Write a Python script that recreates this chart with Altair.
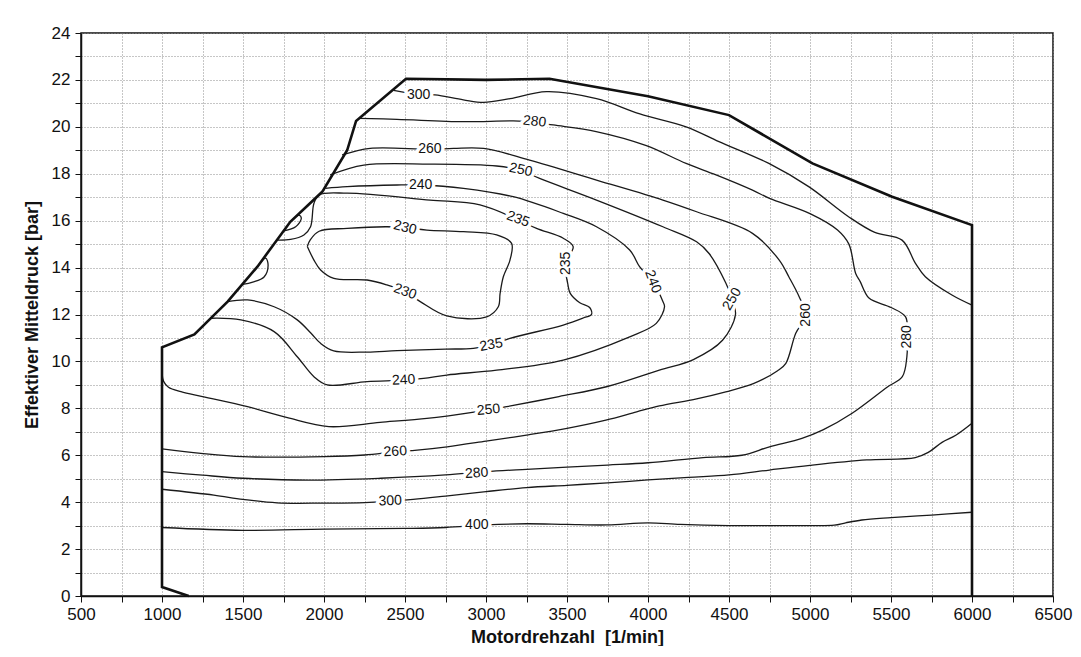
import altair as alt
import pandas as pd

FONT = "Liberation Sans"

# ---------------- data ----------------
# full-load boundary of the map
boundary_rpm = [1165, 1000, 1000, 1200, 1405, 1589, 1792, 1989, 2143, 2198, 2506, 3000, 3392, 4000, 4500, 5015, 5507, 6000, 6000]
boundary_bar = [0.0, 0.38, 10.6, 11.15, 12.55, 14.04, 15.95, 17.23, 19.0, 20.25, 22.05, 22.0, 22.05, 21.3, 20.5, 18.44, 17.02, 15.81, 0.0]

c400_rpm = [1000, 1500, 2000, 2500, 2750, 3000, 3250, 3500, 3750, 4000, 4200, 4500, 4750, 5000, 5150, 5220, 5320, 5500, 5750, 6000]
c400_bar = [2.92, 2.8, 2.85, 2.88, 2.92, 3.03, 3.08, 3.05, 3.03, 3.12, 3.05, 3.0, 3.0, 3.0, 3.02, 3.12, 3.24, 3.34, 3.45, 3.57]

c300a_rpm = [1000, 1320, 1500, 1710, 2000, 2250, 2550, 2750, 3000, 3250, 3500, 3750, 4000, 4250, 4500, 4750, 5000, 5350, 5650, 5730, 5815, 5900, 6000]
c300a_bar = [4.55, 4.3, 4.12, 3.97, 3.96, 3.98, 4.12, 4.26, 4.45, 4.62, 4.72, 4.82, 4.95, 5.06, 5.16, 5.37, 5.57, 5.8, 5.9, 6.12, 6.55, 6.85, 7.36]

c300b_rpm = [2430, 2584, 2685, 2860, 2985, 3148, 3374, 3682, 3950, 4235, 4438, 4746, 4992, 5238, 5400, 5568, 5651, 5712, 5876, 6000]
c300b_bar = [21.55, 21.38, 21.36, 21.15, 21.04, 21.2, 21.5, 21.2, 20.55, 20.0, 19.37, 18.44, 17.45, 16.17, 15.5, 15.17, 14.18, 13.61, 12.83, 12.4]

c280_rpm = [1000, 1250, 1500, 1900, 2350, 2750, 3000, 3250, 3750, 4000, 4340, 4580, 4750, 4950, 5080, 5260, 5480, 5570, 5598, 5600, 5590, 5500, 5364, 5310, 5282, 5240, 5170, 5000, 4750, 4645, 4420, 4235, 3990, 3680, 3415, 3300, 3168, 2860, 2450, 2215]
c280_bar = [5.3, 5.15, 5.02, 4.94, 5.02, 5.16, 5.3, 5.4, 5.58, 5.68, 5.9, 6.0, 6.36, 6.72, 7.08, 7.79, 8.92, 9.35, 10.2, 11.05, 11.9, 12.3, 12.7, 13.4, 13.75, 15.0, 15.6, 16.3, 16.95, 17.3, 17.95, 18.44, 19.2, 19.8, 20.08, 20.2, 20.25, 20.22, 20.32, 20.36]

c260_rpm = [1000, 1240, 1500, 2000, 2250, 2440, 2575, 2760, 3000, 3250, 3500, 3740, 3930, 4070, 4300, 4480, 4650, 4800, 4851, 4912, 4974, 4933, 4870, 4810, 4645, 4300, 4092, 3682, 3269, 2985, 2800, 2654, 2285, 2112]
c260_bar = [6.27, 6.08, 5.94, 5.94, 6.01, 6.15, 6.22, 6.36, 6.6, 6.86, 7.15, 7.5, 7.85, 8.1, 8.4, 8.7, 9.05, 9.6, 9.92, 11.2, 11.98, 12.76, 13.6, 14.32, 15.46, 16.38, 16.88, 17.73, 18.58, 19.08, 19.08, 19.04, 19.08, 18.8]

c250_rpm = [1000, 1010, 1040, 1117, 1250, 1528, 1774, 2030, 2346, 2635, 2758, 3015, 3128, 3450, 3743, 4070, 4280, 4460, 4540, 4520, 4481, 4377, 4300, 4092, 3682, 3331, 3208, 3066, 2654, 2246, 2038]
c250_bar = [9.5, 9.15, 8.9, 8.71, 8.5, 8.07, 7.6, 7.22, 7.4, 7.57, 7.67, 7.93, 8.07, 8.5, 8.92, 9.63, 10.08, 10.9, 12.0, 12.65, 13.33, 14.6, 15.1, 15.74, 16.88, 17.8, 18.16, 18.33, 18.41, 18.37, 17.95]

c240_rpm = [1302, 1487, 1692, 1835, 1938, 2020, 2266, 2492, 2615, 2758, 3066, 3477, 3887, 4051, 4102, 4092, 4030, 3948, 3887, 3682, 3477, 3168, 2861, 2594, 2451, 2143, 2009]
c240_bar = [11.84, 11.77, 11.27, 10.2, 9.35, 9.0, 9.14, 9.2, 9.28, 9.42, 9.63, 10.06, 11.05, 11.62, 12.33, 12.55, 13.4, 14.04, 14.75, 15.74, 16.31, 17.02, 17.38, 17.52, 17.52, 17.45, 17.38]

c235_rpm = [1405, 1528, 1692, 1835, 1920, 1979, 2060, 2266, 2451, 2750, 2922, 3035, 3148, 3477, 3600, 3651, 3640, 3579, 3520, 3505, 3490, 3538, 3477, 3312, 3200, 2963, 2654, 2143, 1970, 1938, 1917, 1876, 1794, 1712]
c235_bar = [12.55, 12.62, 12.33, 11.77, 11.2, 10.77, 10.45, 10.4, 10.46, 10.52, 10.56, 10.7, 10.98, 11.55, 11.85, 12.0, 12.3, 12.5, 12.9, 13.3, 14.18, 14.89, 15.25, 15.67, 16.03, 16.67, 16.88, 17.17, 17.1, 16.74, 15.74, 15.39, 15.2, 15.17]

c230_rpm = [1897, 1917, 1970, 2143, 2389, 2500, 2635, 2861, 3066, 3158, 3148, 3107, 3087, 3076, 3004, 2758, 2594, 2500, 2389, 2266, 2061, 1979, 1938, 1897]
c230_bar = [14.9, 15.2, 15.55, 15.67, 15.74, 15.7, 15.6, 15.53, 15.39, 15.03, 14.32, 13.61, 12.9, 12.33, 11.9, 11.94, 12.55, 12.98, 13.26, 13.47, 13.54, 13.9, 14.32, 14.9]

islandA_rpm = [1589, 1640, 1655, 1630, 1560, 1497]
islandA_bar = [14.04, 14.4, 14.1, 13.6, 13.38, 13.28]

islandB_rpm = [1794, 1845, 1860, 1825, 1753]
islandB_bar = [15.96, 16.24, 16.1, 15.74, 15.57]

# contour labels: text, rpm, bar, rotation (deg, clockwise)
label_text = ["300", "280", "260", "250", "240", "235", "230", "235", "240", "250", "260", "280",
              "230", "235", "240", "250", "260", "280", "300", "400"]
label_rpm = [2584, 3300, 2654, 3215, 2597, 3198, 2500, 3492, 4030, 4520, 4974, 5600,
             2500, 3032, 2492, 3015, 2440, 2943, 2409, 2943]
label_bar = [21.36, 20.22, 19.05, 18.16, 17.52, 16.06, 15.7, 14.18, 13.4, 12.65, 11.98, 11.05,
             12.97, 10.7, 9.2, 7.93, 6.15, 5.23, 4.05, 3.03]
label_angle = [0, 6, 0, 12, 0, 20, 14, 270, 70, 300, 270, 270,
               20, 350, 357, 355, 357, 357, 358, 0]

# x / y tick values
x_ticks = list(range(500, 6501, 250))
y_ticks = list(range(0, 25, 1))

# ---------------- build tables ----------------
contours = [
    ("c400", c400_rpm, c400_bar), ("c300a", c300a_rpm, c300a_bar), ("c300b", c300b_rpm, c300b_bar),
    ("c280", c280_rpm, c280_bar), ("c260", c260_rpm, c260_bar), ("c250", c250_rpm, c250_bar),
    ("c240", c240_rpm, c240_bar), ("c235", c235_rpm, c235_bar), ("c230", c230_rpm, c230_bar),
    ("islA", islandA_rpm, islandA_bar), ("islB", islandB_rpm, islandB_bar),
]
rows = []
for name, xs, ys in contours:
    for i, (xv, yv) in enumerate(zip(xs, ys)):
        rows.append({"id": name, "i": i, "rpm": xv, "bar": yv})
cdf = pd.DataFrame(rows)
bdf = pd.DataFrame({"id": "full", "i": range(len(boundary_rpm)), "rpm": boundary_rpm, "bar": boundary_bar})
ldf = pd.DataFrame({"t": label_text, "rpm": label_rpm, "bar": label_bar, "a": label_angle})

axis_common = dict(
    grid=True, gridDash=[1, 2], gridColor="#8c8c8c", gridWidth=1, gridOpacity=1,
    domain=True, domainColor="#111", domainWidth=1.5,
    ticks=True, tickColor="#111", tickSize=6, tickWidth=1,
    labelFont=FONT, labelFontSize=17, labelColor="#111",
    titleFont=FONT, titleFontSize=18, titleFontWeight="bold", titleColor="#111",
)

x_enc = alt.X("rpm:Q", scale=alt.Scale(domain=[500, 6500], nice=False, zero=False),
              axis=alt.Axis(values=x_ticks, title="Motordrehzahl \u00a0[1/min]",
                            labelExpr="datum.value % 500 == 0 ? '' + datum.value : ''",
                            labelPadding=4, titlePadding=6, labelFlush=False, **axis_common))
y_enc = alt.Y("bar:Q", scale=alt.Scale(domain=[0, 24], nice=False, zero=False),
              axis=alt.Axis(values=y_ticks, title="Effektiver Mitteldruck [bar]",
                            labelExpr="datum.value % 2 == 0 ? '' + datum.value : ''",
                            labelPadding=5, titlePadding=10, labelFlush=False, **axis_common))

lines = alt.Chart(cdf).mark_line(color="#1a1a1a", strokeWidth=1.3, interpolate="catmull-rom").encode(
    x=x_enc, y=y_enc, detail="id:N", order="i:Q")

border = alt.Chart(bdf).mark_line(color="#111", strokeWidth=2.6, strokeJoin="miter").encode(
    x=x_enc, y=y_enc, order="i:Q")

halo = alt.Chart(ldf).mark_text(font=FONT, fontSize=14, fill="white", stroke="white", strokeWidth=7,
                                strokeJoin="round", align="center", baseline="middle").encode(
    x=x_enc, y=y_enc, text="t:N", angle=alt.Angle("a:Q", scale=None))
text = alt.Chart(ldf).mark_text(font=FONT, fontSize=14, color="#111", align="center", baseline="middle").encode(
    x=x_enc, y=y_enc, text="t:N", angle=alt.Angle("a:Q", scale=None))

chart = alt.layer(lines, border, halo, text).properties(
    width=972, height=563,
    padding={"left": 73, "top": 25, "right": 20, "bottom": 50},
    autosize=alt.AutoSizeParams(type="none"),
    background="white",
).configure_view(stroke="#111", strokeWidth=1.5)

chart.save("out.html", embed_options={"renderer": "svg", "actions": False})
